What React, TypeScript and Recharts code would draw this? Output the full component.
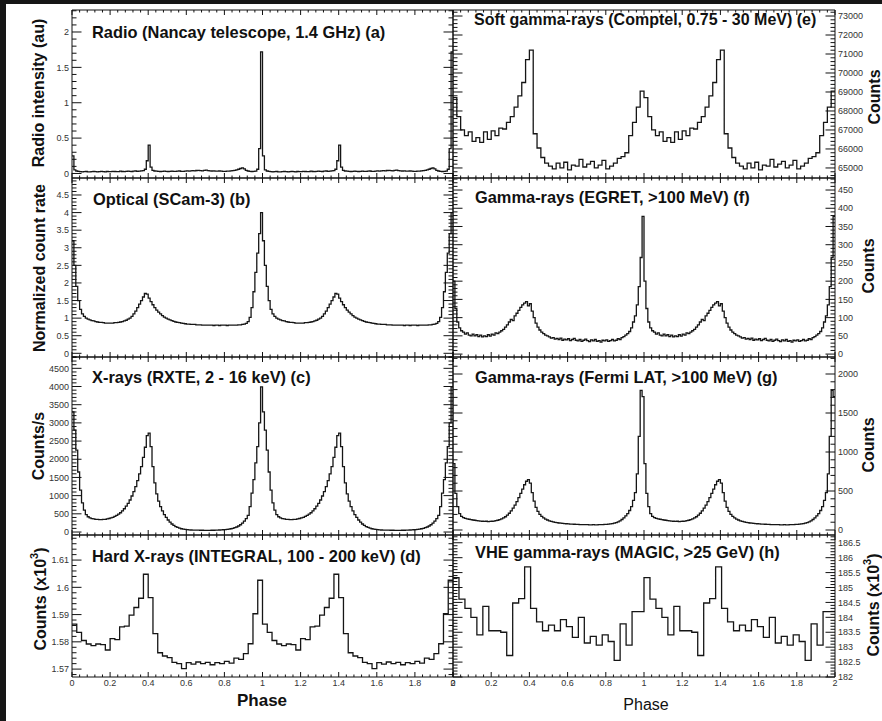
import React from 'react';
import { LineChart, Line, XAxis, YAxis } from 'recharts';

const WIDTH = 882;
const HEIGHT = 721;
const FONT = '"Liberation Sans", Arial, Helvetica, sans-serif';

// Phase axis: two rotations, major ticks every 0.2
const phaseMajor = [0, 0.2, 0.4, 0.6, 0.8, 1, 1.2, 1.4, 1.6, 1.8, 2];
const phaseMinorStep = 0.04;

// One rotation of each light curve (bin contents, equal-width bins from phase 0 to 1)
const radioCycle = [
  0.25, 0.05, 0.035, 0.03, 0.025, 0.022, 0.025, 0.028, 0.024, 0.022,
  0.026, 0.028, 0.025, 0.023, 0.027, 0.03, 0.026, 0.024, 0.028, 0.026,
  0.025, 0.03, 0.028, 0.025, 0.027, 0.032, 0.028, 0.026, 0.03, 0.034,
  0.03, 0.028, 0.032, 0.035, 0.03, 0.033, 0.036, 0.04, 0.06, 0.18,
  0.4, 0.09, 0.045, 0.035, 0.032, 0.03, 0.028, 0.03, 0.033, 0.03,
  0.028, 0.031, 0.034, 0.03, 0.029, 0.032, 0.035, 0.031, 0.03, 0.033,
  0.036, 0.034, 0.038, 0.04, 0.036, 0.042, 0.045, 0.04, 0.038, 0.043,
  0.046, 0.04, 0.037, 0.035, 0.038, 0.034, 0.032, 0.035, 0.033, 0.031,
  0.03, 0.032, 0.034, 0.036, 0.04, 0.045, 0.05, 0.06, 0.07, 0.08,
  0.065, 0.045, 0.035, 0.03, 0.028, 0.03, 0.032, 0.06, 0.35, 1.72,
];

const opticalCycle = [
  3.2, 2.5, 1.9, 1.5, 1.25, 1.12, 1.05, 1.0, 0.97, 0.95,
  0.93, 0.92, 0.9, 0.89, 0.88, 0.88, 0.87, 0.86, 0.86, 0.86,
  0.86, 0.86, 0.87, 0.87, 0.88, 0.89, 0.9, 0.92, 0.94, 0.97,
  1.0, 1.05, 1.12, 1.2, 1.3, 1.4, 1.5, 1.6, 1.7, 1.68,
  1.57, 1.47, 1.38, 1.3, 1.23, 1.17, 1.12, 1.07, 1.03, 1.0,
  0.97, 0.95, 0.93, 0.91, 0.89, 0.88, 0.87, 0.86, 0.85, 0.84,
  0.83, 0.83, 0.82, 0.82, 0.82, 0.81, 0.81, 0.81, 0.8, 0.8,
  0.8, 0.8, 0.8, 0.8, 0.79, 0.8, 0.8, 0.79, 0.8, 0.8,
  0.8, 0.79, 0.8, 0.8, 0.8, 0.8, 0.8, 0.81, 0.81, 0.82,
  0.83, 0.85, 0.9, 1.02, 1.3, 1.75, 2.3, 2.85, 3.4, 4.0,
];

const xrayCycle = [
  3300, 2800, 2250, 1650, 1150, 800, 600, 480, 420, 390,
  370, 360, 350, 345, 340, 340, 345, 350, 360, 372,
  388, 405, 428, 455, 490, 530, 580, 640, 710, 790,
  880, 990, 1110, 1250, 1410, 1600, 1800, 2050, 2330, 2650,
  2720, 2350, 1800, 1350, 1050, 850, 700, 580, 480, 400,
  330, 270, 220, 180, 150, 125, 105, 90, 78, 70,
  64, 60, 56, 54, 52, 50, 50, 48, 48, 47,
  47, 46, 47, 48, 48, 50, 52, 55, 58, 62,
  66, 72, 80, 90, 102, 118, 138, 165, 200, 245,
  300, 370, 460, 700, 1070, 1440, 1900, 2350, 3000, 3990,
];

const hardXrayCycle = [
  1.5865, 1.5835, 1.5805, 1.5792, 1.5786, 1.5792, 1.579, 1.577, 1.5812, 1.5808,
  1.5855, 1.5858, 1.5898, 1.5926, 1.596, 1.6048, 1.5962, 1.583, 1.576, 1.5748,
  1.5742, 1.5725, 1.572, 1.5702, 1.5724, 1.5718, 1.5726, 1.572, 1.5725, 1.5716,
  1.5724, 1.572, 1.5728, 1.5722, 1.574, 1.5736, 1.5757, 1.5793, 1.5903, 1.6026,
];

const comptelCycle = [
  68700, 67700, 67000, 66700, 66900, 66400, 66600, 66350, 66900, 66500,
  66950, 66700, 67100, 67050, 67400, 67700, 68200, 68800, 69500, 70700,
  71200, 66800, 66050, 65550, 65250, 65100, 64950, 65250, 65000, 65300,
  64900, 65150, 65100, 65450, 65050, 65200, 65350, 65000, 65150, 65400,
  64950, 65100, 65250, 65500, 65600, 65800, 66700, 67400, 68200, 69050,
];

const egretCycle = [
  200, 125, 88, 72, 64, 60, 55, 58, 52, 50,
  55, 50, 53, 48, 52, 47, 50, 48, 53, 49,
  55, 52, 58, 56, 60, 64, 68, 74, 80, 88,
  95, 92, 105, 112, 120, 128, 135, 140, 144, 132,
  138, 118, 100, 85, 74, 66, 60, 56, 52, 50,
  47, 44, 45, 41, 43, 40, 44, 38, 41, 39,
  42, 37, 40, 43, 38, 36, 40, 35, 38, 41,
  37, 34, 39, 36, 40, 35, 37, 33, 38, 36,
  39, 35, 37, 40, 36, 38, 42, 40, 45, 48,
  52, 56, 62, 72, 88, 105, 135, 185, 265, 378,
];

const fermiCycle = [
  850, 470, 300, 210, 175, 160, 150, 142, 138, 132,
  128, 125, 120, 118, 115, 112, 110, 112, 108, 110,
  112, 115, 120, 125, 132, 142, 155, 170, 190, 215,
  245, 280, 320, 365, 415, 470, 525, 580, 625, 645,
  600, 480, 370, 290, 240, 200, 175, 155, 140, 128,
  118, 110, 104, 98, 94, 90, 87, 84, 82, 80,
  78, 76, 75, 74, 72, 72, 70, 70, 69, 68,
  68, 67, 67, 68, 66, 67, 68, 68, 70, 71,
  73, 75, 78, 82, 88, 95, 105, 118, 135, 155,
  180, 210, 250, 300, 380, 480, 720, 1200, 1790, 1710,
];

const magicCycle = [
  185.33, 184.61, 184.3, 184.0, 183.41, 184.37, 183.55, 183.55, 183.5, 182.72,
  184.48, 184.63, 185.69, 184.3, 183.85, 183.55, 183.74, 183.55, 183.92, 183.69,
  183.33, 184.0, 183.14, 183.36, 183.07, 183.41, 183.19, 182.56, 183.78, 183.07,
  184.19, 184.19,
];

// Major tick values of the count axes
const radioTicks = [0, 0.5, 1, 1.5, 2];
const opticalTicks = [0, 0.5, 1, 1.5, 2, 2.5, 3, 3.5, 4, 4.5];
const xrayTicks = [0, 500, 1000, 1500, 2000, 2500, 3000, 3500, 4000, 4500];
const hardXrayTicks = [1.57, 1.58, 1.59, 1.6, 1.61];
const comptelTicks = [65000, 66000, 67000, 68000, 69000, 70000, 71000, 72000, 73000];
const egretTicks = [0, 50, 100, 150, 200, 250, 300, 350, 400, 450];
const fermiTicks = [0, 500, 1000, 1500, 2000];
const magicTicks = [182, 182.5, 183, 183.5, 184, 184.5, 185, 185.5, 186, 186.5];

type Side = 'left' | 'right';

interface PanelSpec {
  key: string;
  title: string;
  titleX: number;
  titleY: number;
  titleSize: number;
  cycle: number[];
  box: { x: number; y: number; w: number; h: number };
  domain: [number, number];
  majors: number[];
  minorStep: number;
  labelSide: Side;
  phaseLabels: boolean;
}

// Histogram over two rotations, stepped at the bin edges
function twoRotations(cycle: number[]) {
  const n = cycle.length;
  const pts: { phase: number; v: number }[] = [];
  for (let k = 0; k < 2 * n; k++) pts.push({ phase: k / n, v: cycle[k % n] });
  pts.push({ phase: 2, v: cycle[n - 1] });
  return pts;
}

function tickSet(domain: [number, number], majors: number[], step: number) {
  const vals: number[] = [];
  const start = Math.ceil(domain[0] / step - 1e-9);
  const end = Math.floor(domain[1] / step + 1e-9);
  for (let i = start; i <= end; i++) vals.push(parseFloat((i * step).toFixed(6)));
  majors.forEach((m) => {
    if (!vals.some((v) => Math.abs(v - m) < step * 1e-3)) vals.push(m);
  });
  return vals.sort((a, b) => a - b);
}

function isMajor(v: number, majors: number[], step: number) {
  return majors.some((m) => Math.abs(m - v) < step * 1e-3);
}

const fmt = (v: number) => String(parseFloat(v.toFixed(4)));

const LEFT_X = 72;
const RIGHT_X = 453;
const PANEL_W_L = 381;
const PANEL_W_R = 382;
const ROWS = [
  { y: 10, h: 168 },
  { y: 178, h: 179 },
  { y: 357, h: 178 },
  { y: 535, h: 142 },
];

const panels: PanelSpec[] = [
  {
    key: 'a', title: 'Radio (Nancay telescope, 1.4 GHz) (a)', titleX: 92, titleY: 38, titleSize: 16.4,
    cycle: radioCycle, box: { x: LEFT_X, y: ROWS[0].y, w: PANEL_W_L, h: ROWS[0].h },
    domain: [-0.064, 2.311], majors: radioTicks, minorStep: 0.1, labelSide: 'left', phaseLabels: false,
  },
  {
    key: 'b', title: 'Optical (SCam-3) (b)', titleX: 93, titleY: 205, titleSize: 16.4,
    cycle: opticalCycle, box: { x: LEFT_X, y: ROWS[1].y, w: PANEL_W_L, h: ROWS[1].h },
    domain: [-0.105, 4.983], majors: opticalTicks, minorStep: 0.1, labelSide: 'left', phaseLabels: false,
  },
  {
    key: 'c', title: 'X-rays (RXTE, 2 - 16 keV) (c)', titleX: 92, titleY: 383, titleSize: 16.4,
    cycle: xrayCycle, box: { x: LEFT_X, y: ROWS[2].y, w: PANEL_W_L, h: ROWS[2].h },
    domain: [-82, 4811], majors: xrayTicks, minorStep: 100, labelSide: 'left', phaseLabels: false,
  },
  {
    key: 'd', title: 'Hard X-rays (INTEGRAL, 100 - 200 keV) (d)', titleX: 92, titleY: 562, titleSize: 16.4,
    cycle: hardXrayCycle, box: { x: LEFT_X, y: ROWS[3].y, w: PANEL_W_L, h: ROWS[3].h },
    domain: [1.5671, 1.6192], majors: hardXrayTicks, minorStep: 0.002, labelSide: 'left', phaseLabels: true,
  },
  {
    key: 'e', title: 'Soft gamma-rays (Comptel, 0.75 - 30 MeV) (e)', titleX: 474, titleY: 25, titleSize: 16,
    cycle: comptelCycle, box: { x: RIGHT_X, y: ROWS[0].y, w: PANEL_W_R, h: ROWS[0].h },
    domain: [64471, 73317], majors: comptelTicks, minorStep: 200, labelSide: 'right', phaseLabels: false,
  },
  {
    key: 'f', title: 'Gamma-rays (EGRET, >100 MeV) (f)', titleX: 475, titleY: 203, titleSize: 16.4,
    cycle: egretCycle, box: { x: RIGHT_X, y: ROWS[1].y, w: PANEL_W_R, h: ROWS[1].h },
    domain: [-8, 483], majors: egretTicks, minorStep: 10, labelSide: 'right', phaseLabels: false,
  },
  {
    key: 'g', title: 'Gamma-rays (Fermi LAT, >100 MeV) (g)', titleX: 475, titleY: 383, titleSize: 16.4,
    cycle: fermiCycle, box: { x: RIGHT_X, y: ROWS[2].y, w: PANEL_W_R, h: ROWS[2].h },
    domain: [-64, 2218], majors: fermiTicks, minorStep: 100, labelSide: 'right', phaseLabels: false,
  },
  {
    key: 'h', title: 'VHE gamma-rays (MAGIC, >25 GeV) (h)', titleX: 475, titleY: 558, titleSize: 16.4,
    cycle: magicCycle, box: { x: RIGHT_X, y: ROWS[3].y, w: PANEL_W_R, h: ROWS[3].h },
    domain: [182, 186.76], majors: magicTicks, minorStep: 0.1, labelSide: 'right', phaseLabels: true,
  },
];

const phaseTicks = tickSet([0, 2], phaseMajor, phaseMinorStep);

function makeYTick(side: Side, majors: number[], step: number, labelled: boolean) {
  return (props: any) => {
    const { x, y, payload } = props;
    const v = payload.value as number;
    const major = isMajor(v, majors, step);
    const len = major ? 9.5 : 4.5;
    const d = side === 'left' ? 1 : -1;
    return (
      <g>
        <line x1={x} x2={x + d * len} y1={y} y2={y} stroke="#111" strokeWidth={1} />
        {labelled && major ? (
          <text
            x={x - d * 3}
            y={y + 3.2}
            textAnchor={side === 'left' ? 'end' : 'start'}
            fontSize={9}
            fill="#333"
            fontFamily={FONT}
          >
            {fmt(v)}
          </text>
        ) : null}
      </g>
    );
  };
}

function makeXTick(side: 'top' | 'bottom', labelled: boolean) {
  return (props: any) => {
    const { x, y, payload } = props;
    const v = payload.value as number;
    const major = isMajor(v, phaseMajor, phaseMinorStep);
    const len = major ? 5 : 2.5;
    const d = side === 'bottom' ? -1 : 1;
    return (
      <g>
        <line x1={x} x2={x} y1={y} y2={y + d * len} stroke="#111" strokeWidth={1} />
        {labelled && major ? (
          <text x={x} y={y + 8.5} textAnchor="middle" fontSize={9} fill="#333" fontFamily={FONT}>
            {fmt(v)}
          </text>
        ) : null}
      </g>
    );
  };
}

// Axes get a 1px band each; margins are shrunk by that so the frame lands on the panel box
const AX = 1;

function Panel({ p }: { p: PanelSpec }) {
  const data = twoRotations(p.cycle);
  const yTicks = tickSet(p.domain, p.majors, p.minorStep);
  const margin = {
    left: p.box.x - AX,
    top: p.box.y - AX,
    right: WIDTH - p.box.x - p.box.w - AX,
    bottom: HEIGHT - p.box.y - p.box.h - AX,
  };
  const axisLine = { stroke: '#111', strokeWidth: 1 };
  return (
    <div style={{ position: 'absolute', left: 0, top: 0 }}>
      <LineChart width={WIDTH} height={HEIGHT} data={data} margin={margin}>
        <XAxis
          xAxisId="bottom" dataKey="phase" type="number" domain={[0, 2]} allowDataOverflow
          ticks={phaseTicks} interval={0} height={AX} tickSize={0} tickMargin={0} tickLine={false}
          axisLine={axisLine} tick={makeXTick('bottom', p.phaseLabels)} orientation="bottom"
        />
        <XAxis
          xAxisId="top" dataKey="phase" type="number" domain={[0, 2]} allowDataOverflow
          ticks={phaseTicks} interval={0} height={AX} tickSize={0} tickMargin={0} tickLine={false}
          axisLine={axisLine} tick={makeXTick('top', false)} orientation="top"
        />
        <YAxis
          yAxisId="left" type="number" domain={p.domain} allowDataOverflow ticks={yTicks} interval={0}
          width={AX} tickSize={0} tickMargin={0} tickLine={false} axisLine={axisLine} orientation="left"
          tick={makeYTick('left', p.majors, p.minorStep, p.labelSide === 'left')}
        />
        <YAxis
          yAxisId="right" type="number" domain={p.domain} allowDataOverflow ticks={yTicks} interval={0}
          width={AX} tickSize={0} tickMargin={0} tickLine={false} axisLine={axisLine} orientation="right"
          tick={makeYTick('right', p.majors, p.minorStep, p.labelSide === 'right')}
        />
        <Line
          xAxisId="bottom" yAxisId="left" dataKey="v" type="stepAfter" stroke="#151515"
          strokeWidth={1.3} dot={false} activeDot={false} isAnimationActive={false}
        />
      </LineChart>
    </div>
  );
}

function VerticalTitle({ x, y, text, sup }: { x: number; y: number; text: string; sup?: boolean }) {
  return (
    <text
      x={x} y={y} transform={`rotate(-90 ${x} ${y})`} textAnchor="middle" dominantBaseline="central"
      fontSize={16} fontWeight="bold" fill="#111" fontFamily={FONT}
    >
      {text}
      {sup ? (
        <>
          <tspan dy={-6} fontSize={11}>3</tspan>
          <tspan dy={6}>)</tspan>
        </>
      ) : null}
    </text>
  );
}

export default function App() {
  return (
    <div
      style={{
        position: 'absolute', left: 0, top: 0, width: WIDTH, height: HEIGHT,
        background: '#ffffff', overflow: 'hidden',
      }}
    >
      {panels.map((p) => (
        <Panel key={p.key} p={p} />
      ))}
      <svg
        width={WIDTH} height={HEIGHT}
        style={{ position: 'absolute', left: 0, top: 0, pointerEvents: 'none' }}
      >
        {panels.map((p) => (
          <text
            key={p.key} x={p.titleX} y={p.titleY} fontSize={p.titleSize} fontWeight="bold"
            fill="#111" fontFamily={FONT}
          >
            {p.title}
          </text>
        ))}
        <VerticalTitle x={38} y={93} text="Radio intensity (au)" />
        <VerticalTitle x={39} y={268} text="Normalized count rate" />
        <VerticalTitle x={38} y={446} text="Counts/s" />
        <VerticalTitle x={40} y={599} text="Counts (x10" sup />
        <VerticalTitle x={874} y={97} text="Counts" />
        <VerticalTitle x={868} y={266} text="Counts" />
        <VerticalTitle x={868} y={445} text="Counts" />
        <VerticalTitle x={873} y={605} text="Counts (x10" sup />
        <text x={262} y={706} textAnchor="middle" fontSize={17} fontWeight="bold" fill="#111" fontFamily={FONT}>
          Phase
        </text>
        <text x={646} y={710} textAnchor="middle" fontSize={16} fill="#111" fontFamily={FONT}>
          Phase
        </text>
      </svg>
      <div style={{ position: 'absolute', left: 0, top: 0, width: WIDTH, height: 4, background: '#161616' }} />
      <div style={{ position: 'absolute', left: 0, top: 0, width: 6, height: HEIGHT, background: '#161616' }} />
    </div>
  );
}
